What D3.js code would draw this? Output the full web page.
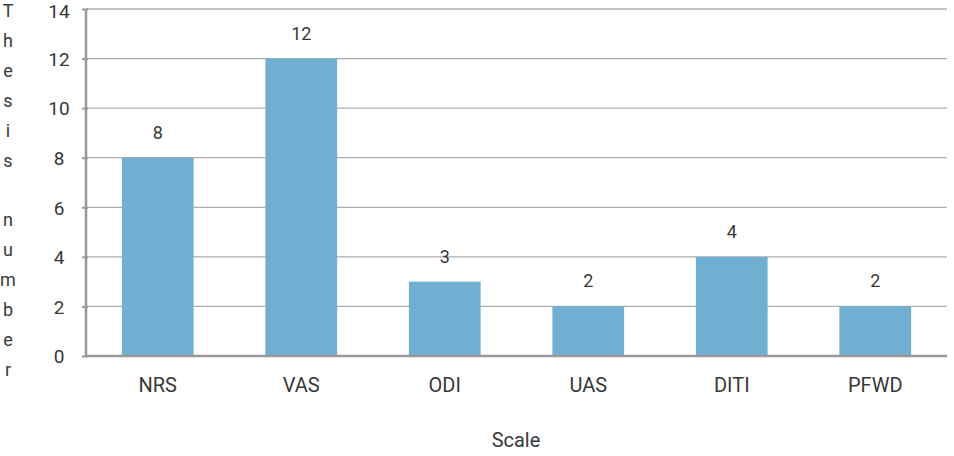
<!DOCTYPE html>
<html><head><meta charset="utf-8">
<script src="https://cdn.jsdelivr.net/npm/d3@7"></script>
<style>body{margin:0;background:#fff}svg{display:block}text{font-family:Roboto,"DejaVu Sans",sans-serif;fill:#383838}</style>
</head><body><svg id="c" width="954" height="456"></svg>
<script>
const categories = ["NRS","VAS","ODI","UAS","DITI","PFWD"];
const values = [8,12,3,2,4,2];
const yTicks = [0,2,4,6,8,10,12,14];
const yTitle = "Thesis number";
const xTitle = "Scale";

const svg = d3.select("#c");
const m = {l:86, r:7, t:9, b:100};
const W = 954, H = 456;
const x = d3.scaleBand().domain(categories).range([m.l, W-m.r]).paddingInner(0.5).paddingOuter(0.25);
const y = d3.scaleLinear().domain([0,14]).range([H-m.b, m.t]);

// gridlines
svg.append("g").selectAll("line").data(yTicks.filter(d=>d>0)).join("line")
  .attr("x1", m.l).attr("x2", W-m.r).attr("y1", d=>y(d)).attr("y2", d=>y(d))
  .attr("stroke","#adadad").attr("stroke-width",1.3);

// bars
svg.append("g").selectAll("rect").data(values).join("rect")
  .attr("x",(d,i)=>x(categories[i])).attr("width",x.bandwidth())
  .attr("y",d=>y(d)).attr("height",d=>y(0)-y(d)).attr("fill","#71afd2");

// baseline
svg.append("line").attr("x1",m.l).attr("x2",W-m.r).attr("y1",y(0)).attr("y2",y(0))
  .attr("stroke","#999").attr("stroke-width",2.5);

// y axis
const ya = svg.append("g").attr("transform",`translate(${m.l},0)`)
  .call(d3.axisLeft(y).tickValues(yTicks).tickSize(4).tickPadding(0).tickFormat(d3.format("d")));
ya.select(".domain").remove();
ya.append("line").attr("x1",0).attr("x2",0).attr("y1",y(14)).attr("y2",y(0)).attr("stroke","#999").attr("stroke-width",2.5);
ya.selectAll(".tick line").attr("stroke","#999").attr("stroke-width",2).attr("x1",2);
ya.selectAll(".tick text").attr("x",-27).attr("text-anchor","middle")
  .attr("dy",d=>d===14?"0.45em":"0.36em")
  .style("font-size","19px").style("fill","#383838");

// x axis labels
const xa = svg.append("g").attr("transform",`translate(0,${y(0)})`)
  .call(d3.axisBottom(x).tickSize(0).tickPadding(22));
xa.select(".domain").remove();
xa.selectAll(".tick text").style("font-size","20px").style("fill","#383838").attr("dy","0.69em");

// value labels
svg.append("g").selectAll("text").data(values).join("text")
  .attr("x",(d,i)=>x(categories[i])+x.bandwidth()/2).attr("y",d=>y(d)-19)
  .attr("text-anchor","middle").style("font-size","18px").text(d=>d);

// x title
svg.append("text").attr("x",516).attr("y",447).attr("text-anchor","middle").style("font-size","20px").text(xTitle);

// y title stacked letters
const letters = yTitle.split("");
svg.append("g").selectAll("text").data(letters).join("text")
  .attr("x",8).attr("y",(d,i)=>17+i*29.9).attr("text-anchor","middle")
  .style("font-size","18px").text(d=>d);
</script></body></html>
